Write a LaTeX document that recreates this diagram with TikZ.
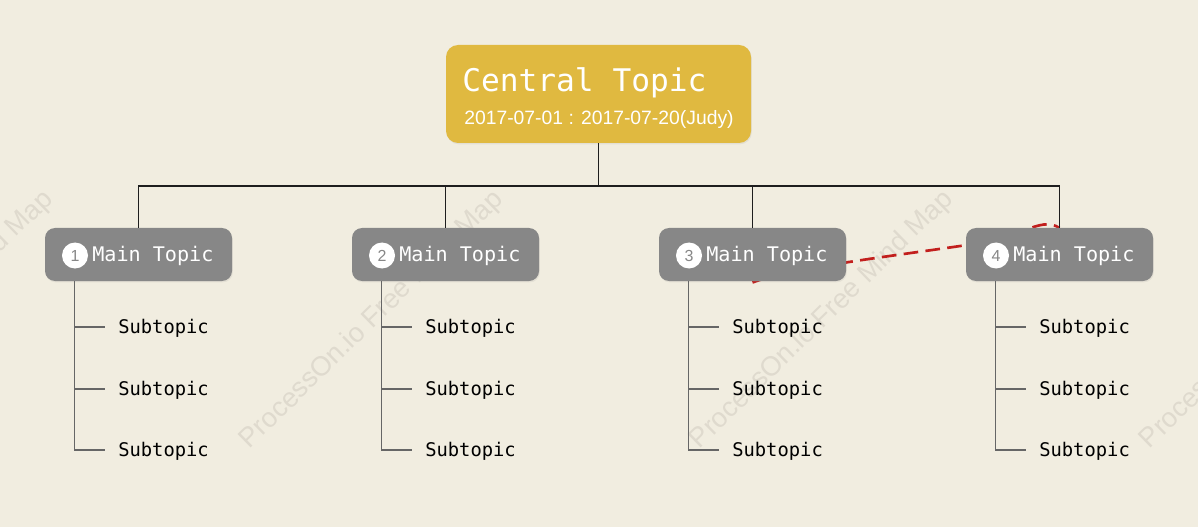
\documentclass[tikz,border=0pt]{standalone}
\usepackage{fontspec}
\setmainfont{Liberation Sans}
\newfontfamily\topicfont{DejaVu Sans Mono}
\usetikzlibrary{shadows}
\definecolor{bg}{HTML}{F1EDE0}
\definecolor{gold}{HTML}{E0B940}
\definecolor{topicgray}{HTML}{878787}
\definecolor{wmcol}{HTML}{DFDACE}
\definecolor{redline}{HTML}{C21F1D}
\definecolor{linkcol}{HTML}{1E1E1E}
\definecolor{subcol}{HTML}{666666}
\tikzset{
  centralbox/.style={draw=none, fill=gold, rounded corners=9pt, minimum width=228.75pt, minimum height=73.5pt, inner sep=0pt,
    drop shadow={opacity=0.12, shadow xshift=0.6pt, shadow yshift=-1pt}},
  mainbox/.style={draw=none, fill=topicgray, rounded corners=7.5pt, minimum width=140.25pt, minimum height=39.75pt, inner sep=0pt,
    drop shadow={opacity=0.12, shadow xshift=0.6pt, shadow yshift=-1pt}},
  numcirc/.style={circle, fill=white, text=topicgray, minimum size=19.5pt, inner sep=0pt, font=\fontsize{12}{12}\selectfont},
  maintext/.style={anchor=base west, text=white, inner sep=0pt, font=\topicfont\fontsize{15.1}{16}\selectfont},
  titletext/.style={anchor=base west, text=white, inner sep=0pt, font=\topicfont\fontsize{23.4}{25}\selectfont},
  datetext/.style={anchor=base west, text=white, inner sep=0pt, font=\fontsize{14.5}{16}\selectfont},
  subtext/.style={anchor=west, text=black, inner xsep=9.75pt, inner ysep=2pt, font=\topicfont\fontsize{14.1}{15}\selectfont},
  link/.style={draw=linkcol, line width=1.1pt},
  subline/.style={draw=subcol, line width=1.1pt},
  wmark/.style={text=wmcol, rotate=44.4, inner sep=0pt, font=\fontsize{20.5}{22}\selectfont},
  relline/.style={draw=redline, line width=2pt, dash pattern=on 11pt off 5.5pt}
}
\begin{document}
\begin{tikzpicture}[x=0.75pt,y=-0.75pt]
\fill[bg] (0,0) rectangle (1198,527);
\useasboundingbox (0,0) rectangle (1198,527);
% watermarks
\begin{scope}
\clip (0,0) rectangle (1198,527);
\foreach \cx/\k in {-78/1,372/2,822/3,1272/4}
  \node[wmark] (wm\k) at (\cx,320) {ProcessOn.io Free Mind Map};
\end{scope}
% central topic
\node[centralbox] (c) at (598.5,94) {};
\node[titletext] (ctitle) at (462,92) {Central Topic};
\node[datetext] (cdate) at (464,125) {2017-07-01 : 2017-07-20(Judy)};
% relation curve (behind topic boxes)
\coordinate (r3) at (752.5,282.5);
\coordinate (r4) at (1059.5,228);
\draw[relline] (r3) .. controls (790,268) and (900,255) .. (967,245)
   .. controls (1020,240) and (1040,215) .. (r4);
% main topics
\foreach \i in {1,...,4} {
  \pgfmathsetmacro\L{45+307*(\i-1)}
  \node[mainbox] (m\i) at (\L+93.5,254.5) {};
  \node[numcirc] (n\i) at (\L+30,255.5) {\i};
  \node[maintext] (t\i) at (\L+47,262) {Main Topic};
  \node[subtext] (s\i a) at (\L+60,328) {Subtopic};
  \node[subtext] (s\i b) at (\L+60,390) {Subtopic};
  \node[subtext] (s\i c) at (\L+60,451) {Subtopic};
  \coordinate (tr\i) at ([xshift=22.5pt]m\i.south west);
  \draw[subline] (tr\i) |- ([yshift=0.75pt]s\i c.west);
  \draw[subline] ([yshift=0.75pt]tr\i |- s\i a.west) -- ([yshift=0.75pt]s\i a.west);
  \draw[subline] ([yshift=0.75pt]tr\i |- s\i b.west) -- ([yshift=0.75pt]s\i b.west);
}
% links from central topic
\coordinate (bus) at (598.5,186);
\draw[link] (c.south) -- (bus);
\draw[link] (m1.north) -- (m1.north |- bus) -- (m4.north |- bus) -- (m4.north);
\draw[link] (m2.north) -- (m2.north |- bus);
\draw[link] (m3.north) -- (m3.north |- bus);
\end{tikzpicture}
\end{document}
